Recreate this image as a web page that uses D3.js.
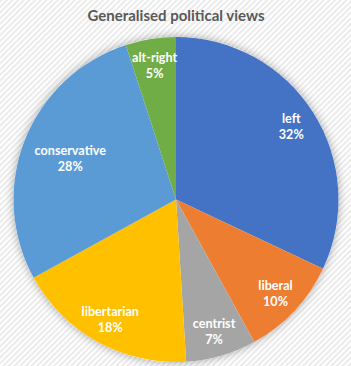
<!DOCTYPE html>
<html>
<head>
<meta charset="utf-8">
<script src="https://cdn.jsdelivr.net/npm/d3@7"></script>
<style>
  html, body { margin: 0; padding: 0; background: #fff; }
  svg { display: block; }
</style>
</head>
<body>
<svg id="chart"></svg>
<script>
const categories = ["left", "liberal", "centrist", "libertarian", "conservative", "alt-right"];
const shares = [32, 10, 7, 18, 28, 5];
const colors = ["#4472C4", "#ED7D31", "#A5A5A5", "#FFC000", "#5B9BD5", "#70AD47"];

const width = 351;
const height = 366;
const cx = 176, cy = 199.5, radius = 162.5;

const svg = d3.select("#chart").attr("width", width).attr("height", height);
const defs = svg.append("defs");

// diagonal hatch background like excel chart area
const pat = defs.append("pattern")
  .attr("id", "hatch")
  .attr("patternUnits", "userSpaceOnUse")
  .attr("width", 4)
  .attr("height", 4)
  .attr("patternTransform", "rotate(45)");
pat.append("rect").attr("width", 4).attr("height", 4).attr("fill", "#ffffff");
pat.append("rect").attr("width", 2).attr("height", 4).attr("fill", "#ebebeb");

const shadow = defs.append("filter")
  .attr("id", "shadow")
  .attr("x", "-20%").attr("y", "-20%")
  .attr("width", "140%").attr("height", "140%");
shadow.append("feGaussianBlur").attr("in", "SourceAlpha").attr("stdDeviation", 5).attr("result", "blur");
shadow.append("feComponentTransfer").append("feFuncA").attr("type", "linear").attr("slope", 0.35);
const merge = shadow.append("feMerge");
merge.append("feMergeNode");
merge.append("feMergeNode").attr("in", "SourceGraphic");

svg.append("rect")
  .attr("width", width)
  .attr("height", height)
  .attr("fill", "url(#hatch)");

svg.append("text")
  .attr("x", 176)
  .attr("y", 21)
  .attr("text-anchor", "middle")
  .style("font-family", "Lato, 'Open Sans', sans-serif")
  .style("font-weight", "bold")
  .style("font-size", "15px")
  .style("fill", "#595959")
  .text("Generalised political views");

const data = categories.map((c, i) => ({ name: c, value: shares[i], color: colors[i] }));

const pie = d3.pie().sort(null).value(d => d.value);
const arcs = pie(data);
const arc = d3.arc().innerRadius(0).outerRadius(radius);

const g = svg.append("g").attr("transform", `translate(${cx},${cy})`);

g.append("circle").attr("r", radius).attr("fill", "#fff").attr("filter", "url(#shadow)");

g.selectAll("path")
  .data(arcs)
  .join("path")
  .attr("d", arc)
  .attr("fill", d => d.data.color);

// excel "best fit" puts the big conservative label further in
const labelFactor = d => d.data.name === "conservative" ? 0.70 : 0.84;

const labels = g.selectAll("g.lbl")
  .data(arcs)
  .join("g")
  .attr("class", "lbl")
  .attr("transform", d => {
    const a = (d.startAngle + d.endAngle) / 2;
    const r = radius * labelFactor(d);
    return `translate(${Math.sin(a) * r},${-Math.cos(a) * r})`;
  });

labels.append("text")
  .attr("text-anchor", "middle")
  .attr("y", -3)
  .style("font-family", "Lato, 'Open Sans', sans-serif")
  .style("font-weight", "bold")
  .style("font-size", "12.6px")
  .style("fill", "#fff")
  .text(d => d.data.name);

labels.append("text")
  .attr("text-anchor", "middle")
  .attr("y", 13)
  .style("font-family", "Lato, 'Open Sans', sans-serif")
  .style("font-weight", "bold")
  .style("font-size", "12.6px")
  .style("fill", "#fff")
  .text(d => d.data.value + "%");
</script>
</body>
</html>
